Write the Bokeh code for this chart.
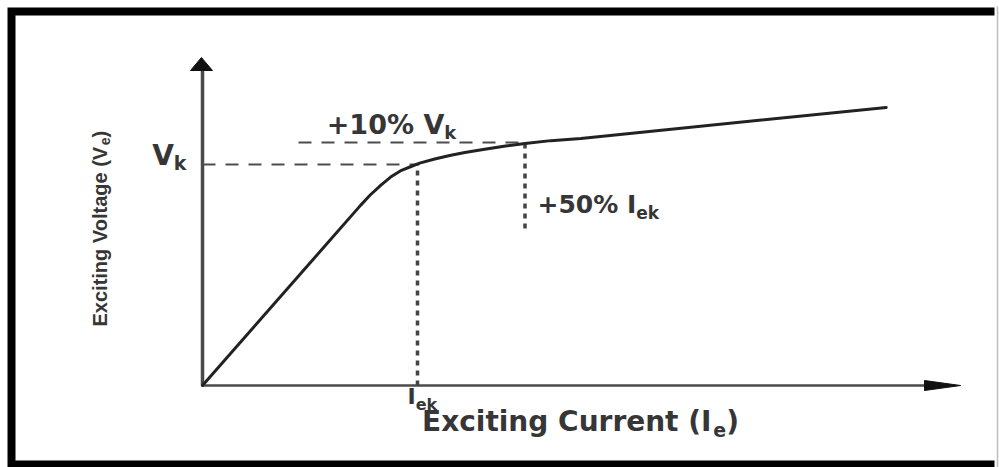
import numpy as np
from bokeh.plotting import figure
from bokeh.models import Range1d, Label
from bokeh.embed import file_html
from bokeh.resources import INLINE

# ---------------- data (units: I/I_ek, V/V_k) ----------------
exciting_current = [0.0, 0.735, 0.78, 0.83, 0.875, 0.92, 0.97, 1.01, 1.08, 1.15, 1.22,
                    1.32, 1.41, 1.50, 1.62, 1.76, 3.18]
exciting_voltage = [0.0, 0.815, 0.862, 0.907, 0.943, 0.971, 0.991, 1.006, 1.025, 1.041, 1.054,
                    1.070, 1.084, 1.095, 1.108, 1.118, 1.258]
I_ek = 1.0
V_k = 1.0
voltage_step = 1.10   # +10% Vk
current_step = 1.50   # +50% Iek
x_axis_end = 3.526
y_axis_end = 1.484

# ---------------- pixel <-> data helpers ----------------
W, H = 999, 467
OX, OY = 202, 385
SX, SY = 215.0, 221.0


def X(px):
    return (px - OX) / SX


def Y(py):
    return (OY - py) / SY


p = figure(width=W, height=H, x_range=Range1d(X(0), X(W)), y_range=Range1d(Y(H), Y(0)),
           output_backend="svg", toolbar_location=None, min_border=0,
           x_axis_location=None, y_axis_location=None)
p.grid.visible = False
p.outline_line_color = None
p.background_fill_color = "white"
p.border_fill_color = "white"

# ---------------- frame ----------------
p.line([X(994), X(11), X(11), X(994)], [Y(11), Y(11), Y(464), Y(464)],
       line_width=8, color="black", line_join="miter")
p.line([X(997), X(997)], [Y(6), Y(467)], line_width=1.5, color="#bdbdbd")

# ---------------- axes ----------------
ax_col = "#4a4a4a"
p.line([0, 0], [0, Y(69)], line_width=3.5, color=ax_col)
p.patch([X(190), 0 - 0.005, X(212)], [Y(70), y_axis_end, Y(70)], color="#111111")
p.line([0, X(926)], [0, 0], line_width=2.5, color=ax_col)
p.patch([X(924), x_axis_end, X(924)], [5 / SY, 0, -5 / SY], color="#111111")

# ---------------- reference lines ----------------
p.line([0, I_ek], [V_k, V_k], line_width=2, color="#4d4d4d", line_dash="13 10")
p.line([X(298), current_step * I_ek], [voltage_step * V_k] * 2, line_width=2,
       color="#4d4d4d", line_dash="13 10")
p.line([I_ek, I_ek], [0, V_k], line_width=3.5, color="#444444", line_dash="5 5")
p.line([current_step * I_ek] * 2, [Y(228), voltage_step * V_k], line_width=3.5,
       color="#444444", line_dash="5 5")

# ---------------- curve ----------------
p.line(exciting_current, exciting_voltage, line_width=3, color="#222222",
       line_join="round", line_cap="round")

# ---------------- text ----------------
BOLD_W = {' ': .348, '+': .838, '0': .696, '1': .696, '5': .696, '%': 1.002, 'V': .774,
          'I': .372, 'E': .682, 'x': .711, 'c': .593, 'i': .343, 't': .478, 'n': .712,
          'g': .716, 'C': .735, 'u': .712, 'r': .493, 'e': .678, '(': .457, ')': .457,
          'k': .665}
TXT = "#363636"


def width(s, size):
    return sum(BOLD_W.get(ch, .6) for ch in s) * size


def add(text, px, py, size):
    # empirical correction: rendered baseline sits below the anchor
    p.add_layout(Label(x=X(px), y=Y(py - 0.44 * size), text=text, text_font="DejaVu Sans",
                       text_font_size=f"{size}px", text_font_style="bold",
                       text_color=TXT, text_align="left", text_baseline="alphabetic"))


def compose(parts, start_px, base_py):
    x = start_px
    for text, size, dy in parts:
        add(text, x, base_py + dy, size)
        x += width(text, size)


def total(parts):
    return sum(width(t, s) for t, s, _ in parts)


partsA = [("V", 28, 0), ("k", 19, 4)]
compose(partsA, 186 - total(partsA), 167)
partsB = [("+10% V", 27, 0), ("k", 18, 4)]
compose(partsB, 391 - total(partsB) / 2, 136)
partsC = [("+50% I", 25, 0), ("ek", 17, 5)]
compose(partsC, 537, 215)
partsD = [("I", 22, 0), ("ek", 16, 5)]
compose(partsD, 407, 406)
partsE = [("Exciting Current (I", 28, 0), ("e", 19, 5), (")", 28, 0)]
compose(partsE, 580 - total(partsE) / 2, 433)

# rotated y label (Arial bold metrics)
ARIALB_W = {'E': .667, 'x': .556, 'c': .556, 'i': .278, 't': .333, 'n': .611, 'g': .611,
            ' ': .278, 'V': .667, 'o': .611, 'l': .278, 'a': .556, 'e': .556,
            '(': .333, ')': .333}
py = 326
for text, size, dx in [("Exciting Voltage (V", 20, 0), ("e", 14, 5), (")", 20, 0)]:
    p.add_layout(Label(x=X(99 + dx), y=Y(py), text=text, text_font="Liberation Sans",
                       text_font_size=f"{size}px", text_font_style="bold",
                       text_color=TXT, angle=np.pi / 2,
                       text_align="left", text_baseline="middle"))
    py -= sum(ARIALB_W.get(ch, .55) for ch in text) * size

open("out.html", "w").write(file_html(p, INLINE))
